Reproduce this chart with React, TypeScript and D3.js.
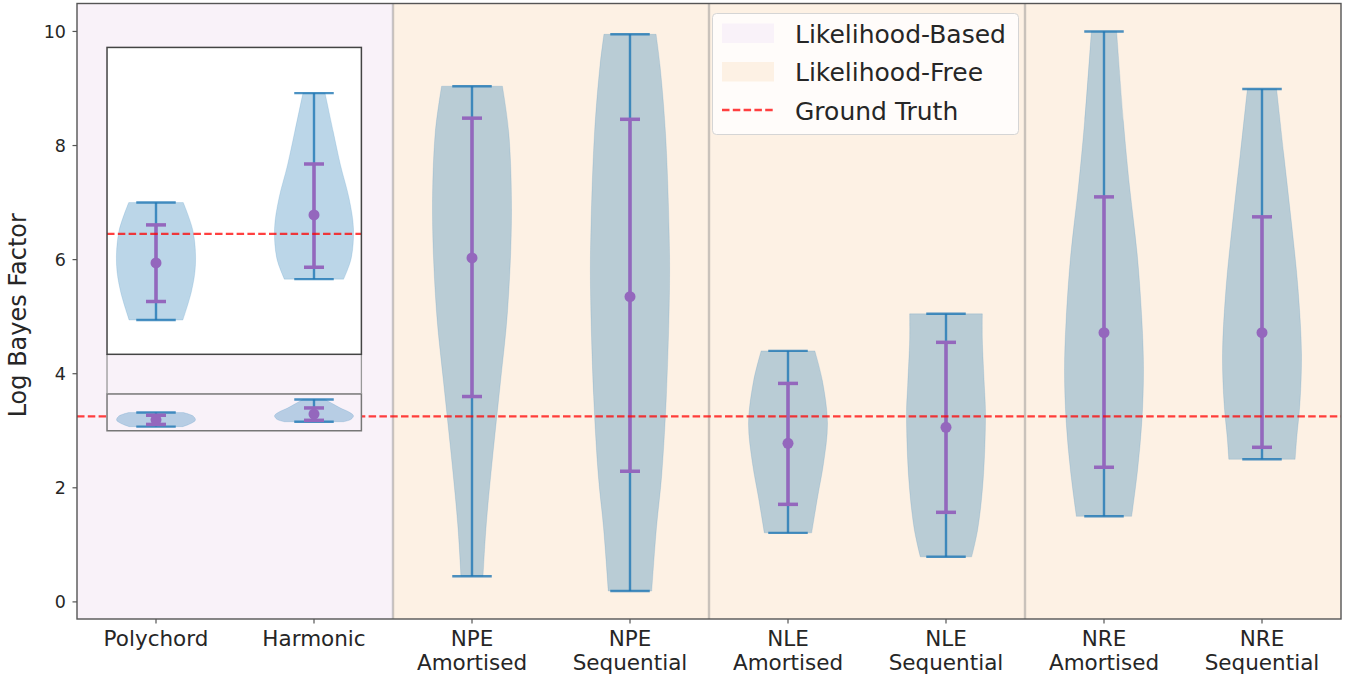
import { useEffect, useRef } from 'react';
import * as d3 from 'd3';

// tick labels, one line per entry
const categories: string[][] = [
  ['Polychord'],
  ['Harmonic'],
  ['NPE', 'Amortised'],
  ['NPE', 'Sequential'],
  ['NLE', 'Amortised'],
  ['NLE', 'Sequential'],
  ['NRE', 'Amortised'],
  ['NRE', 'Sequential'],
];
const positions = [1, 2, 3, 4, 5, 6, 7, 8];

// extrema (blue) and error bars (purple)
const mins = [3.072, 3.158, 0.45, 0.19, 1.21, 0.79, 1.5, 2.5];
const maxs = [3.319, 3.549, 9.04, 9.95, 4.4, 5.05, 10.0, 8.99];
const means = [3.192, 3.293, 6.03, 5.35, 2.78, 3.06, 4.72, 4.72];
const lowers = [3.111, 3.183, 3.6, 2.29, 1.71, 1.57, 2.36, 2.71];
const uppers = [3.272, 3.4, 8.48, 8.46, 3.83, 4.55, 7.1, 6.75];

// violin outlines: [value, relative half width]
const profiles: [number, number][][] = [
  [[3.319, 0.69], [3.258, 0.94], [3.189, 1.0], [3.133, 0.9], [3.072, 0.68]],
  [[3.549, 0.28], [3.467, 0.49], [3.398, 0.67], [3.327, 0.89], [3.264, 1.0], [3.201, 0.94], [3.158, 0.75]],
  [[9.04, 0.77], [8.23, 0.93], [6.79, 1.0], [5.1, 0.9], [3.85, 0.72], [2.6, 0.53], [1.35, 0.36], [0.45, 0.28]],
  [[9.95, 0.66], [9.4, 0.76], [8.2, 0.9], [6.5, 0.99], [5.5, 1.0], [3.6, 0.92], [2.2, 0.8], [1.3, 0.67], [0.19, 0.55]],
  [[4.4, 0.68], [3.88, 0.87], [3.13, 1.0], [2.43, 0.9], [1.84, 0.75], [1.21, 0.6]],
  [[5.05, 0.92], [4.6, 0.92], [3.8, 0.97], [3.3, 1.0], [2.13, 0.94], [1.26, 0.8], [0.79, 0.65]],
  [[10.0, 0.32], [8.43, 0.49], [7.26, 0.65], [6.1, 0.84], [4.93, 0.96], [4.06, 1.0], [3.18, 0.96], [2.31, 0.85], [1.5, 0.7]],
  [[8.99, 0.37], [7.85, 0.55], [6.68, 0.74], [5.51, 0.91], [4.35, 1.0], [3.48, 0.96], [2.88, 0.88], [2.5, 0.84]],
];

const groundTruth = 3.253;
const yTicks = [0, 2, 4, 6, 8, 10];
const dividers = [2.5, 4.5, 6.5];
const regions = [
  { label: 'Likelihood-Based', from: 0.5, to: 2.5 },
  { label: 'Likelihood-Free', from: 2.5, to: 8.5 },
];
// zoomed window [x0, x1, y0, y1] and where the inset sits (main data units)
const zoomWindow = [0.69, 2.3, 3.0, 3.645];
const insetPlace = [0.69, 2.3, 4.34, 9.72];

const regionColors = ['#f9f2f9', '#fdf1e4'];
const FONT = 'DejaVu Sans, sans-serif';
const BLUE = '#1f77b4';
const PURPLE = '#9467bd';

const App: React.FC = () => {
  const svgRef = useRef<SVGSVGElement | null>(null);

  useEffect(() => {
    if (svgRef.current === null) return;
    const svg = d3.select(svgRef.current);
    svg.selectAll('*').remove();

    const x = d3.scaleLinear().domain([0.5, 8.5]).range([77, 1341]);
    const y = d3.scaleLinear().domain([-0.3, 10.49]).range([619, 3.5]);
    const unit = x(1) - x(0);
    const [top, bottom] = [y.range()[1], y.range()[0]];

    // background spans
    svg
      .selectAll('.span')
      .data(regions)
      .enter()
      .append('rect')
      .attr('x', (d) => x(d.from))
      .attr('width', (d) => x(d.to) - x(d.from))
      .attr('y', top)
      .attr('height', bottom - top)
      .attr('fill', (_, i) => regionColors[i]);

    svg
      .selectAll('.divider')
      .data(dividers)
      .enter()
      .append('line')
      .attr('x1', (d) => x(d))
      .attr('x2', (d) => x(d))
      .attr('y1', top)
      .attr('y2', bottom)
      .attr('stroke', '#8a8a8a')
      .attr('stroke-opacity', 0.45)
      .attr('stroke-width', 2.4);

    const drawViolins = (
      g: d3.Selection<SVGGElement, unknown, null, undefined>,
      ys: d3.ScaleLinear<number, number>,
      idx: number[]
    ) => {
      idx.forEach((i) => {
        const cx = x(positions[i]);
        const half = unit * 0.25;
        const area = d3
          .area<[number, number]>()
          .curve(d3.curveCatmullRom)
          .y((d) => ys(d[0]))
          .x0((d) => cx - d[1] * half)
          .x1((d) => cx + d[1] * half);
        g.append('path')
          .attr('d', area(profiles[i]))
          .attr('fill', BLUE)
          .attr('fill-opacity', 0.3)
          .attr('stroke', BLUE)
          .attr('stroke-opacity', 0.15);

        const cap = unit * 0.125;
        g.append('line')
          .attr('x1', cx).attr('x2', cx)
          .attr('y1', ys(mins[i])).attr('y2', ys(maxs[i]))
          .attr('stroke', BLUE).attr('stroke-width', 2.4).attr('stroke-opacity', 0.8);
        [mins[i], maxs[i]].forEach((v) => {
          g.append('line')
            .attr('x1', cx - cap).attr('x2', cx + cap)
            .attr('y1', ys(v)).attr('y2', ys(v))
            .attr('stroke', BLUE).attr('stroke-width', 2.4).attr('stroke-opacity', 0.8);
        });

        g.append('line')
          .attr('x1', cx).attr('x2', cx)
          .attr('y1', ys(lowers[i])).attr('y2', ys(uppers[i]))
          .attr('stroke', PURPLE).attr('stroke-width', 3.5);
        [lowers[i], uppers[i]].forEach((v) => {
          g.append('line')
            .attr('x1', cx - 10).attr('x2', cx + 10)
            .attr('y1', ys(v)).attr('y2', ys(v))
            .attr('stroke', PURPLE).attr('stroke-width', 3.5);
        });
        g.append('circle')
          .attr('cx', cx).attr('cy', ys(means[i]))
          .attr('r', 5.5).attr('fill', PURPLE);
      });
    };

    const mainG = svg.append('g');
    drawViolins(mainG, y, [2, 3, 4, 5, 6, 7]);

    const gtLine = (g: d3.Selection<SVGGElement, unknown, null, undefined>, x1: number, x2: number, yy: number) =>
      g.append('line')
        .attr('x1', x1).attr('x2', x2)
        .attr('y1', yy).attr('y2', yy)
        .attr('stroke', '#ff0000')
        .attr('stroke-opacity', 0.75)
        .attr('stroke-width', 2.3)
        .attr('stroke-dasharray', '7.5,3.3');
    gtLine(mainG, x(0.5), x(8.5), y(groundTruth));

    // zoom indicator in the main axes
    const [zx0, zx1, zy0, zy1] = zoomWindow;
    mainG.append('rect')
      .attr('x', x(zx0)).attr('y', y(zy1))
      .attr('width', x(zx1) - x(zx0)).attr('height', y(zy0) - y(zy1))
      .attr('fill', regionColors[0]);
    const smallG = svg.append('g');
    drawViolins(smallG, y, [0, 1]);
    smallG.append('rect')
      .attr('x', x(zx0)).attr('y', y(zy1))
      .attr('width', x(zx1) - x(zx0)).attr('height', y(zy0) - y(zy1))
      .attr('fill', 'none').attr('stroke', '#777').attr('stroke-width', 1.5);

    // inset axes
    const [ix0, ix1, iy0, iy1] = insetPlace;
    [zx0, zx1].forEach((v) => {
      smallG.append('line')
        .attr('x1', x(v)).attr('x2', x(v))
        .attr('y1', y(iy0)).attr('y2', y(zy1))
        .attr('stroke', '#999').attr('stroke-width', 1.3);
    });
    const yIn = d3.scaleLinear().domain([zy0, zy1]).range([y(iy0), y(iy1)]);
    const insetG = svg.append('g');
    insetG.append('rect')
      .attr('x', x(ix0)).attr('y', y(iy1))
      .attr('width', x(ix1) - x(ix0)).attr('height', y(iy0) - y(iy1))
      .attr('fill', '#fff');
    drawViolins(insetG, yIn, [0, 1]);
    gtLine(insetG, x(ix0), x(ix1), yIn(groundTruth));
    insetG.append('rect')
      .attr('x', x(ix0)).attr('y', y(iy1))
      .attr('width', x(ix1) - x(ix0)).attr('height', y(iy0) - y(iy1))
      .attr('fill', 'none').attr('stroke', '#444').attr('stroke-width', 1.5);

    // frame
    svg.append('rect')
      .attr('x', x(0.5)).attr('y', top)
      .attr('width', x(8.5) - x(0.5)).attr('height', bottom - top)
      .attr('fill', 'none').attr('stroke', '#555').attr('stroke-width', 1.4);

    // y axis
    const yAxis = svg.append('g');
    yTicks.forEach((t) => {
      yAxis.append('line')
        .attr('x1', x(0.5) - 4.5).attr('x2', x(0.5))
        .attr('y1', y(t)).attr('y2', y(t))
        .attr('stroke', '#555').attr('stroke-width', 1.2);
      yAxis.append('text')
        .attr('x', x(0.5) - 11).attr('y', y(t))
        .attr('dy', '0.36em')
        .attr('text-anchor', 'end')
        .attr('font-family', FONT).attr('font-size', 17.5)
        .attr('fill', '#262626')
        .text(t);
    });
    svg.append('text')
      .attr('transform', `translate(26,${(top + bottom) / 2 + 4}) rotate(-90)`)
      .attr('text-anchor', 'middle')
      .attr('font-family', FONT).attr('font-size', 24)
      .attr('fill', '#262626')
      .text('Log Bayes Factor');

    // x axis
    const xAxis = svg.append('g');
    positions.forEach((p, i) => {
      xAxis.append('line')
        .attr('x1', x(p)).attr('x2', x(p))
        .attr('y1', bottom).attr('y2', bottom + 4.5)
        .attr('stroke', '#555').attr('stroke-width', 1.2);
      const t = xAxis.append('text')
        .attr('text-anchor', 'middle')
        .attr('font-family', FONT).attr('font-size', 21.5)
        .attr('fill', '#262626');
      categories[i].forEach((line, j) => {
        t.append('tspan').attr('x', x(p)).attr('y', 646 + j * 24).text(line);
      });
    });

    // legend
    const lg = svg.append('g').attr('transform', 'translate(712.5,13.5)');
    lg.append('rect')
      .attr('width', 306).attr('height', 121).attr('rx', 4)
      .attr('fill', '#fff').attr('fill-opacity', 0.8)
      .attr('stroke', '#d5d5d5');
    regions.forEach((r, i) => {
      lg.append('rect')
        .attr('x', 9.5).attr('y', 10 + i * 38.5)
        .attr('width', 52).attr('height', 19.5)
        .attr('fill', regionColors[i]);
      lg.append('text')
        .attr('x', 82.5).attr('y', 29 + i * 38.5)
        .attr('font-family', FONT).attr('font-size', 25)
        .attr('fill', '#262626')
        .text(r.label);
    });
    lg.append('line')
      .attr('x1', 9.5).attr('x2', 61.5)
      .attr('y1', 96.5).attr('y2', 96.5)
      .attr('stroke', '#ff0000').attr('stroke-opacity', 0.75)
      .attr('stroke-width', 2.3).attr('stroke-dasharray', '7.5,3.3');
    lg.append('text')
      .attr('x', 82.5).attr('y', 106)
      .attr('font-family', FONT).attr('font-size', 25)
      .attr('fill', '#262626')
      .text('Ground Truth');
  }, []);

  return (
    <svg
      ref={svgRef}
      width={1355}
      height={678}
      style={{ position: 'absolute', left: 0, top: 0, background: '#fff' }}
    ></svg>
  );
};

export default App;
